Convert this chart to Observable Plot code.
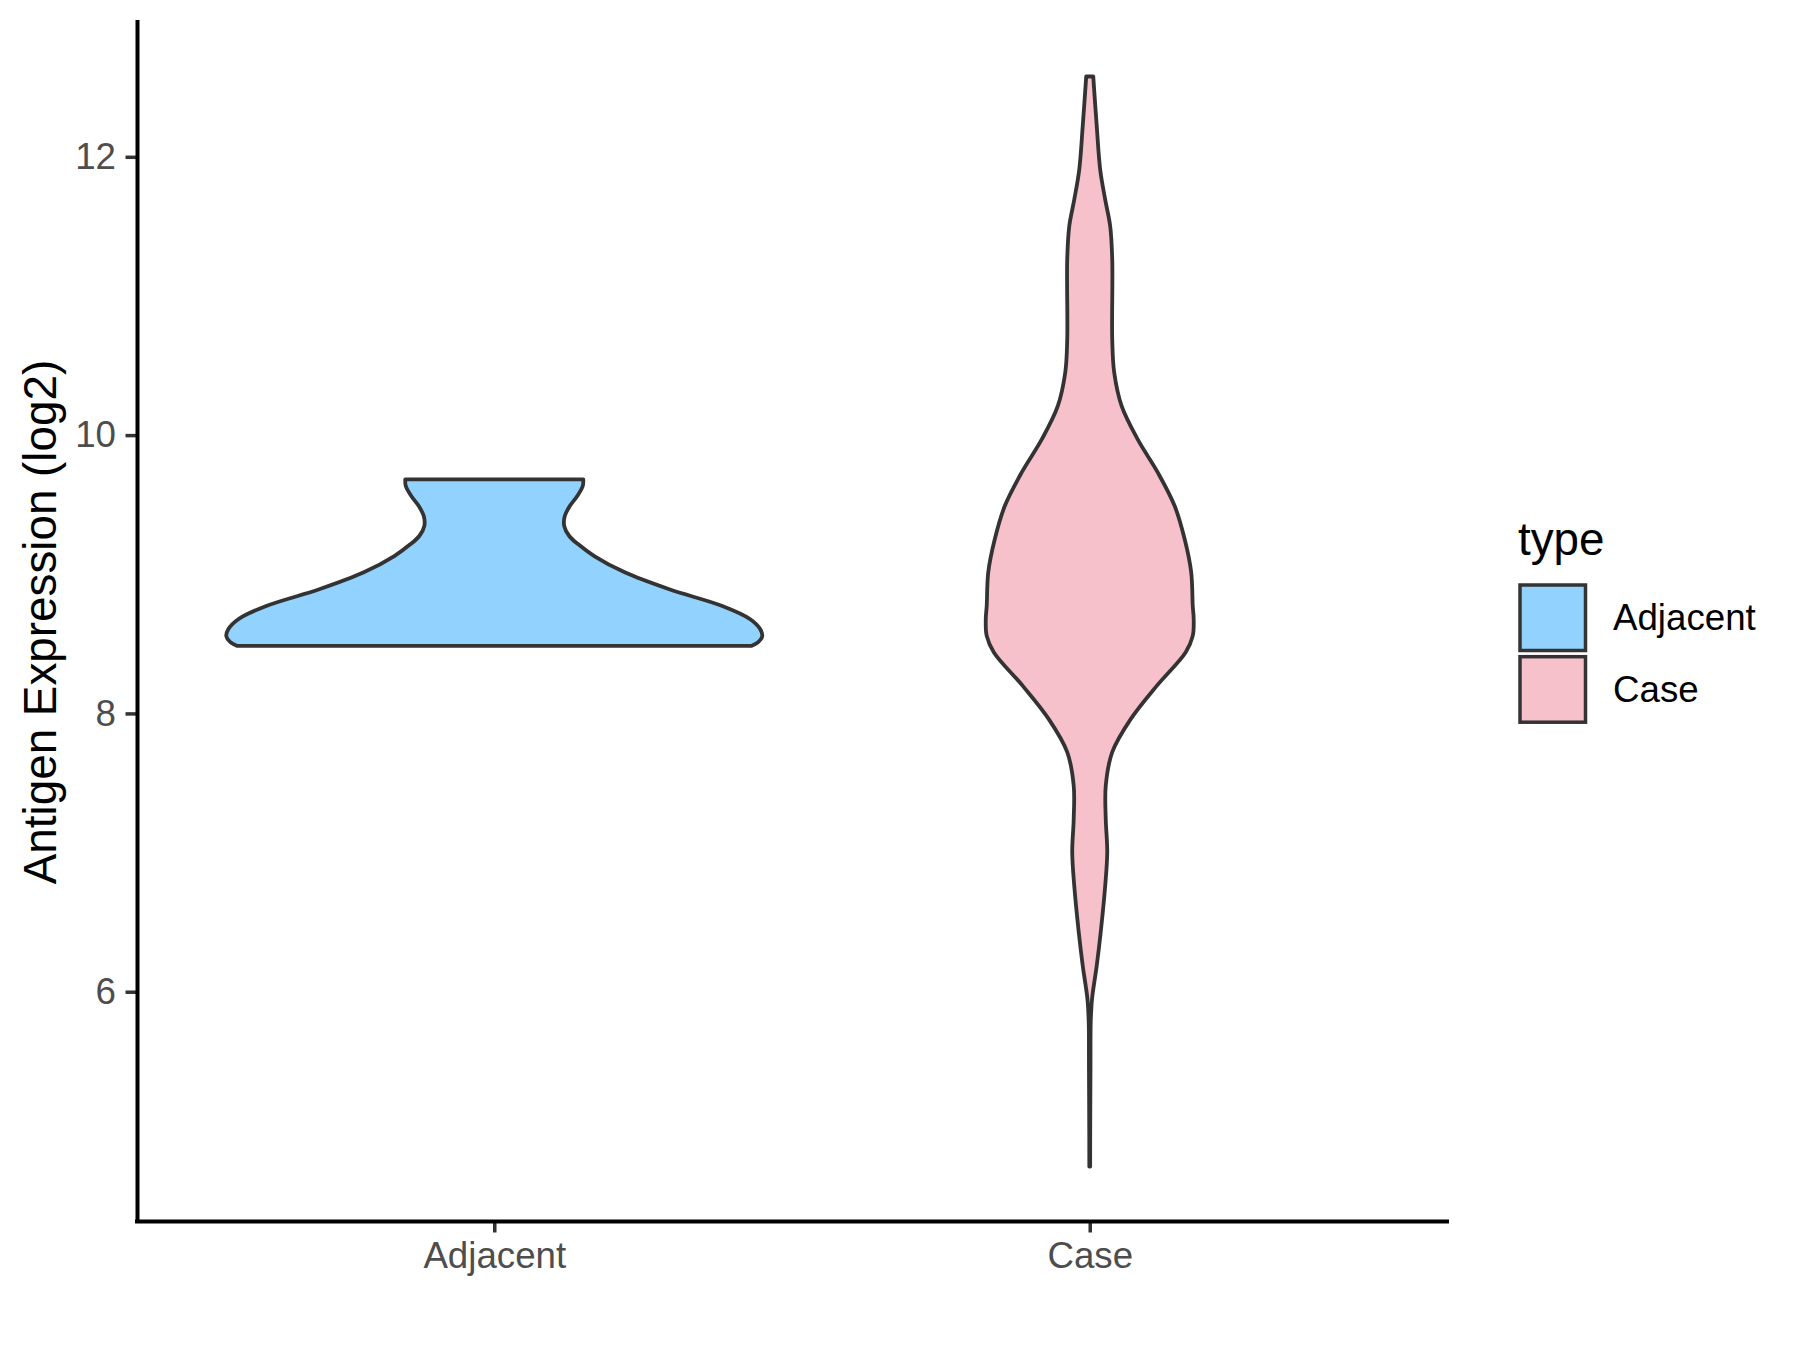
<!DOCTYPE html>
<html>
<head>
<meta charset="utf-8">
<script src="https://cdn.jsdelivr.net/npm/d3@7"></script>
<script src="https://cdn.jsdelivr.net/npm/@observablehq/plot@0.6"></script>
<style>
  body { margin: 0; background: #fff; }
  #chart { position: relative; width: 1800px; height: 1350px; }
</style>
</head>
<body>
<div id="chart"></div>
<script>
// ---- data ----
const categories = ["Adjacent", "Case"];
const fillColors = ["#91D2FF", "#F7C1CC"];
const yTicks = [6, 8, 10, 12];
const yTitle = "Antigen Expression (log2)";
const legendTitle = "type";

// violin outline: expression value and half-width (in category units)
const adjacentY = [9.682, 9.634, 9.562, 9.490, 9.418, 9.346, 9.275, 9.215, 9.131, 9.012, 8.892, 8.772, 8.677, 8.605, 8.555, 8.512, 8.485];
const adjacentHalfWidth = [0.1495, 0.1486, 0.1394, 0.1268, 0.1184, 0.1175, 0.1259, 0.1411, 0.1679, 0.2200, 0.2939, 0.3829, 0.4299, 0.4467, 0.4500, 0.4433, 0.4316];

const caseY = [12.577, 12.218, 11.907, 11.692, 11.500, 11.261, 10.687, 10.450, 10.208, 9.969, 9.732, 9.490, 9.251, 9.014, 8.772, 8.677, 8.557, 8.440, 8.198, 7.959, 7.722, 7.480, 7.241, 7.004, 6.762, 6.430, 6.188, 5.949, 5.784, 5.470, 4.994, 4.744];
const caseHalfWidth = [0.0059, 0.0118, 0.0176, 0.0260, 0.0344, 0.0378, 0.0378, 0.0411, 0.0537, 0.0806, 0.1142, 0.1427, 0.1595, 0.1704, 0.1730, 0.1746, 0.1730, 0.1612, 0.1125, 0.0688, 0.0378, 0.0269, 0.0269, 0.0294, 0.0260, 0.0185, 0.0118, 0.0039, 0.0017, 0.0013, 0.0008, 0.0007];

// ---- build tables ----
const series = [
  {name: categories[0], pos: 1, ys: adjacentY, ws: adjacentHalfWidth, fill: fillColors[0]},
  {name: categories[1], pos: 2, ys: caseY, ws: caseHalfWidth, fill: fillColors[1]}
];
const tables = series.map(s => s.ys.map((y, i) => ({y, w: s.ws[i], pos: s.pos})));

const allY = adjacentY.concat(caseY);
const lo = d3.min(allY), hi = d3.max(allY), span = hi - lo;
const yDomain = [lo - 0.05 * span, hi + 0.05 * span];

const FONT = "'Liberation Sans', Arial, Helvetica, sans-serif";
const STROKE = "#333333";

const violinMarks = series.map((s, k) =>
  Plot.areaX(tables[k], {
    y: "y",
    x1: d => d.pos - d.w,
    x2: d => d.pos + d.w,
    fill: s.fill,
    stroke: STROKE,
    strokeWidth: 3.8,
    strokeLinejoin: "round",
    curve: "catmull-rom"
  })
);

const chart = Plot.plot({
  width: 1800,
  height: 1350,
  marginLeft: 137,
  marginRight: 353,
  marginTop: 22,
  marginBottom: 129,
  style: {fontFamily: FONT, background: "#fff", overflow: "visible"},
  x: {domain: [0.4, 2.6], axis: null},
  y: {domain: yDomain, axis: null},
  marks: [
    ...violinMarks,
    Plot.axisY({
      ticks: yTicks, tickSize: 11.5, tickPadding: 10, fontSize: 36.7,
      stroke: STROKE, fill: "#4D4D4D", strokeWidth: 3.5, label: null
    }),
    Plot.axisX({
      ticks: [1, 2], tickFormat: d => categories[d - 1],
      tickSize: 11.5, tickPadding: 9, fontSize: 36.7,
      stroke: STROKE, fill: "#4D4D4D", strokeWidth: 3.5, label: null
    }),
    Plot.ruleX([0.4], {stroke: "#000", strokeWidth: 4, strokeLinecap: "square"}),
    Plot.ruleY([yDomain[0]], {stroke: "#000", strokeWidth: 4, strokeLinecap: "square"}),
    Plot.text([yTitle], {
      frameAnchor: "left", dx: -96, rotate: -90,
      fontSize: 45.8, fill: "#000", textAnchor: "middle"
    })
  ]
});

// ---- legend (inside the same SVG, right-hand side) ----
const svg = d3.select(chart);
const lg = svg.append("g").attr("font-family", FONT).attr("text-anchor", "start");
const legendX = 1520, keySize = 65.5, keyTop = 585, keyPitch = 71.7;
lg.append("text").attr("x", legendX - 2).attr("y", 555)
  .attr("font-size", 45.8).attr("fill", "#000").text(legendTitle);
categories.forEach((c, i) => {
  const y0 = keyTop + i * keyPitch;
  lg.append("rect").attr("x", legendX).attr("y", y0)
    .attr("width", keySize).attr("height", keySize)
    .attr("fill", fillColors[i]).attr("stroke", STROKE).attr("stroke-width", 3.5);
  lg.append("text").attr("x", 1613).attr("y", y0 + keySize / 2 + 12.5)
    .attr("font-size", 36.7).attr("fill", "#000").text(c);
});

document.getElementById("chart").appendChild(chart);
</script>
</body>
</html>
